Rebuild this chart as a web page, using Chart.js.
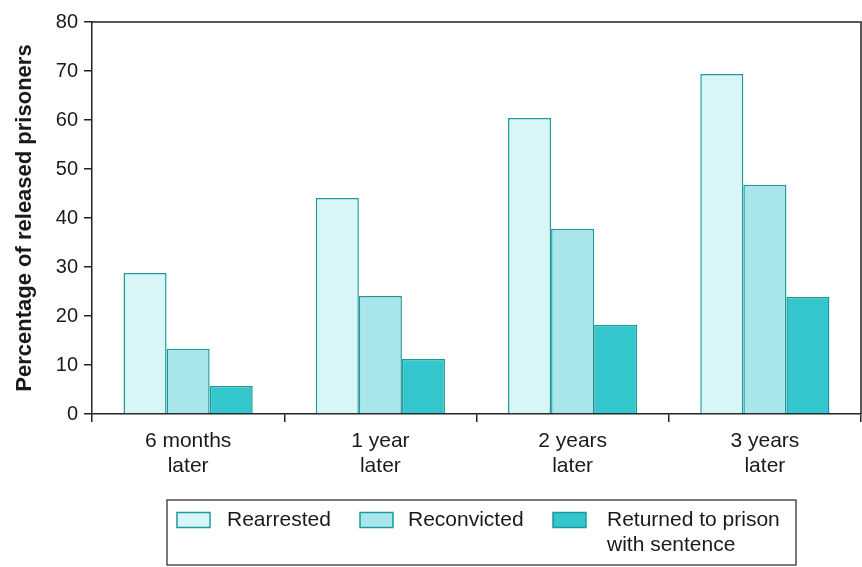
<!DOCTYPE html>
<html>
<head>
<meta charset="utf-8">
<script src="https://cdn.jsdelivr.net/npm/chart.js@4/dist/chart.umd.min.js"></script>
<style>
  html, body { margin: 0; padding: 0; background: #ffffff; }
  #wrap { width: 862px; height: 567px; position: relative; }
</style>
</head>
<body>
<div id="wrap"><canvas id="c" width="862" height="567"></canvas></div>
<script>
const categories = [["6 months", "later"], ["1 year", "later"], ["2 years", "later"], ["3 years", "later"]];
const rearrested = [28.8, 44.1, 60.4, 69.4];
const reconvicted = [13.3, 24.1, 37.8, 46.8];
const returnedToPrison = [5.7, 11.2, 18.2, 23.9];
const seriesLabels = [["Rearrested"], ["Reconvicted"], ["Returned to prison", "with sentence"]];
const yAxisTitle = "Percentage of released prisoners";
const yMin = 0, yMax = 80, yStep = 10;

const fills = ["#d8f5f7", "#a9e6ec", "#33c7cd"];
const edge = "#1f9a9c";
const FONT = "'Liberation Sans', Arial, Helvetica, sans-serif";

const frameAndLegend = {
  id: 'frameAndLegend',
  afterDraw(chart) {
    const ctx = chart.ctx;
    const a = chart.chartArea;
    ctx.save();
    ctx.strokeStyle = "#222";
    ctx.lineWidth = 1.5;
    ctx.beginPath();
    ctx.moveTo(a.left, a.top);
    ctx.lineTo(a.right, a.top);
    ctx.lineTo(a.right, a.bottom);
    ctx.stroke();

    const box = { l: 167, t: 500, r: 796, b: 565 };
    ctx.lineWidth = 1.2;
    ctx.strokeStyle = "#222";
    ctx.strokeRect(box.l, box.t, box.r - box.l, box.b - box.t);

    const swX = [177, 360, 553];
    const txX = [227, 408, 607];
    const swW = 33, swH = 15, line1 = 520, lh = 25;
    ctx.font = "21px " + FONT;
    ctx.textBaseline = "middle";
    ctx.textAlign = "left";
    chart.data.datasets.forEach((ds, i) => {
      ctx.fillStyle = ds.backgroundColor;
      ctx.fillRect(swX[i], line1 - swH / 2, swW, swH);
      ctx.strokeStyle = ds.borderColor;
      ctx.lineWidth = 1.5;
      ctx.strokeRect(swX[i], line1 - swH / 2, swW, swH);
      ctx.fillStyle = "#1a1a1a";
      seriesLabels[i].forEach((t, k) => ctx.fillText(t, txX[i], line1 + k * lh));
    });
    ctx.restore();
  }
};

new Chart(document.getElementById('c'), {
  type: 'bar',
  data: {
    labels: categories,
    datasets: [
      { label: seriesLabels[0].join(" "), data: rearrested, backgroundColor: fills[0], borderColor: edge, borderWidth: 1.5 },
      { label: seriesLabels[1].join(" "), data: reconvicted, backgroundColor: fills[1], borderColor: edge, borderWidth: 1.5 },
      { label: seriesLabels[2].join(" "), data: returnedToPrison, backgroundColor: fills[2], borderColor: edge, borderWidth: 1.5 }
    ]
  },
  options: {
    responsive: false,
    animation: false,
    devicePixelRatio: 1,
    layout: { padding: { left: 12, right: 1, top: 22, bottom: 0 } },
    datasets: { bar: { categoryPercentage: 0.672, barPercentage: 1.0 } },
    plugins: {
      legend: { display: false },
      tooltip: { enabled: false }
    },
    scales: {
      x: {
        grid: { display: true, drawOnChartArea: false, drawTicks: true, tickLength: 8, color: "#222", lineWidth: 1.5, offset: true },
        border: { display: true, color: "#222", width: 1.5 },
        ticks: { color: "#1a1a1a", font: { family: FONT, size: 21, lineHeight: 1.22 }, padding: 6, maxRotation: 0, autoSkip: false },
        afterFit(scale) { scale.height = 567 - 414; }
      },
      y: {
        min: yMin, max: yMax,
        grid: { display: true, drawOnChartArea: false, drawTicks: true, tickLength: 8, color: "#222", lineWidth: 1.5 },
        border: { display: true, color: "#222", width: 1.5 },
        ticks: { stepSize: yStep, color: "#1a1a1a", font: { family: FONT, size: 20 }, padding: 6 },
        title: { display: true, text: yAxisTitle, color: "#1a1a1a", font: { family: FONT, size: 22, weight: 'bold' }, padding: { top: 0, bottom: 0 } },
        afterFit(scale) { scale.width = 92 - 12; }
      }
    }
  },
  plugins: [frameAndLegend]
});
</script>
</body>
</html>
